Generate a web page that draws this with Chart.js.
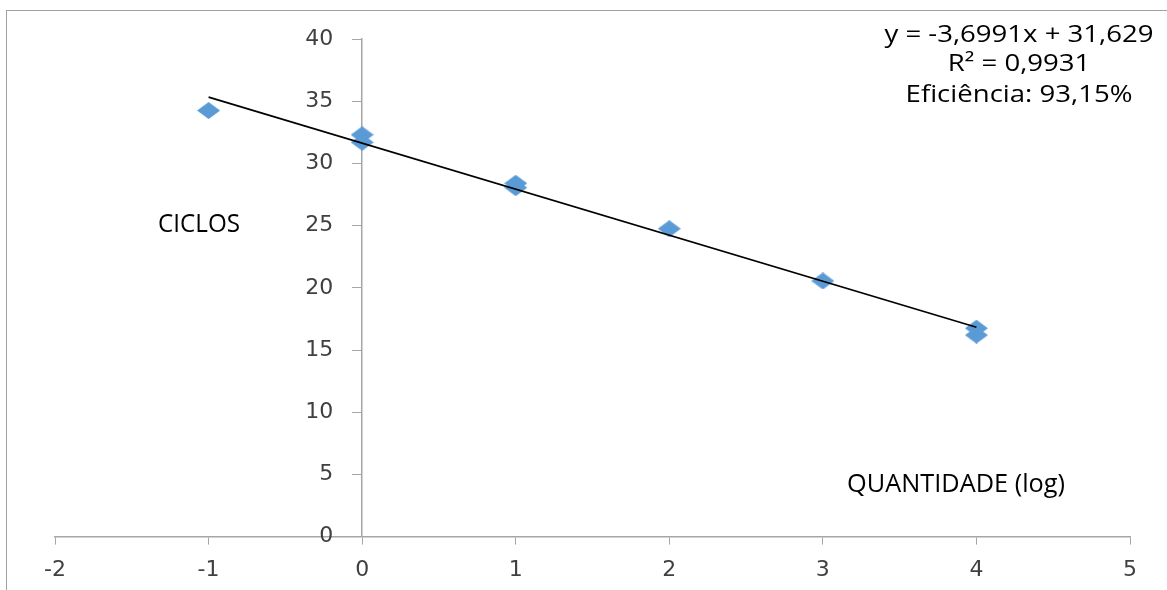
<!DOCTYPE html>
<html>
<head>
<meta charset="utf-8">
<script src="https://cdn.jsdelivr.net/npm/chart.js@4/dist/chart.umd.min.js"></script>
<style>
  html, body { margin: 0; padding: 0; background: #fff; }
  canvas { display: block; }
</style>
</head>
<body>
<canvas id="qpcrChart" width="1167" height="590"></canvas>
<script>
// ---- data ----
const quantidade = [-1, 0, 0, 1, 1, 2, 3, 4, 4];
const ciclos = [34.25, 32.3, 31.7, 28.4, 28.05, 24.75, 20.55, 16.75, 16.2];

// trendline (from the chart's equation)
const slope = -3.6991;
const intercept = 31.629;
const trendFrom = -1;
const trendTo = 4;

const equationLines = ["y = -3,6991x + 31,629", "R² = 0,9931", "Eficiência: 93,15%"];
const yTitle = "CICLOS";
const xTitle = "QUANTIDADE (log)";

const axisGray = "#A6A6A6";
const tickColor = "#404040";
const tickFont = { family: "'DejaVu Sans', Verdana, sans-serif", size: 22 };
const yLabelGap = 29; // labels sit left of the tick marks

// squashed diamond like the excel marker
function makeDiamond(w, h, color) {
  const c = document.createElement("canvas");
  c.width = w;
  c.height = h;
  const g = c.getContext("2d");
  g.fillStyle = color;
  g.beginPath();
  g.moveTo(w / 2, 0);
  g.lineTo(w, h / 2);
  g.lineTo(w / 2, h);
  g.lineTo(0, h / 2);
  g.closePath();
  g.fill();
  return c;
}
const diamond = makeDiamond(23, 17, "#5B9BD5");

// text squeezed/stretched to the width it has in the picture
function fitText(ctx, text, cx, baseline, width) {
  const w = ctx.measureText(text).width;
  ctx.save();
  ctx.translate(cx, baseline);
  ctx.scale(width / w, 1);
  ctx.fillText(text, 0, 0);
  ctx.restore();
}

// ================= TEXT + FRAME =================
const textPlugin = {
  id: "textPlugin",
  afterDraw(chart) {
    const ctx = chart.ctx;
    ctx.save();
    // outer frame (cut off at right / bottom)
    ctx.strokeStyle = "#A0A0A0";
    ctx.lineWidth = 1;
    ctx.strokeRect(6.5, 10.5, 1400, 800);

    ctx.fillStyle = "#000";
    ctx.textBaseline = "alphabetic";
    ctx.textAlign = "center";
    ctx.font = "23px 'Open Sans'";
    const scaleX = 269 / ctx.measureText(equationLines[0]).width;
    const baseY = [42, 71, 102];
    equationLines.forEach((t, i) => {
      fitText(ctx, t, 1019, baseY[i], ctx.measureText(t).width * scaleX);
    });

    ctx.font = "25px 'Open Sans'";
    fitText(ctx, yTitle, 199, 232, 82);
    fitText(ctx, xTitle, 956, 492, 218);
    ctx.restore();
  }
};

const ctx = document.getElementById("qpcrChart").getContext("2d");

new Chart(ctx, {
  type: "scatter",
  data: {
    datasets: [
      {
        label: "Tendência",
        type: "line",
        data: [
          { x: trendFrom, y: intercept + slope * trendFrom },
          { x: trendTo, y: intercept + slope * trendTo }
        ],
        borderColor: "#000",
        borderWidth: 1.6,
        pointRadius: 0,
        fill: false,
        order: 0
      },
      {
        label: "Ciclos",
        data: quantidade.map((q, i) => ({ x: q, y: ciclos[i] })),
        pointStyle: diamond,
        pointRadius: 12,
        order: 1
      }
    ]
  },
  options: {
    responsive: false,
    animation: false,
    layout: {
      padding: { left: 55, right: 37, top: 39, bottom: -5 }
    },
    plugins: {
      legend: { display: false },
      tooltip: { enabled: false }
    },
    scales: {
      x: {
        type: "linear",
        min: -2,
        max: 5,
        ticks: { stepSize: 1, color: tickColor, padding: 12, font: tickFont },
        grid: { drawOnChartArea: false, drawTicks: true, tickLength: 8, color: axisGray },
        border: { color: axisGray, width: 1.5 }
      },
      y: {
        type: "linear",
        position: { x: 0 },
        min: 0,
        max: 40,
        ticks: { stepSize: 5, color: tickColor, font: tickFont },
        grid: { drawOnChartArea: false, drawTicks: true, tickLength: 9, color: axisGray },
        border: { color: axisGray, width: 1.5 },
        // axis placed at x = 0 puts labels on the line; move them left of the ticks
        afterUpdate(scale) {
          if (scale._gapPatched) return;
          const orig = scale._computeLabelItems;
          scale._computeLabelItems = function (area) {
            const items = orig.call(this, area);
            items.forEach(it => { it.options.translation[0] -= yLabelGap; });
            return items;
          };
          scale._labelItems = null;
          scale._gapPatched = true;
        }
      }
    }
  },
  plugins: [textPlugin]
});
</script>
</body>
</html>
